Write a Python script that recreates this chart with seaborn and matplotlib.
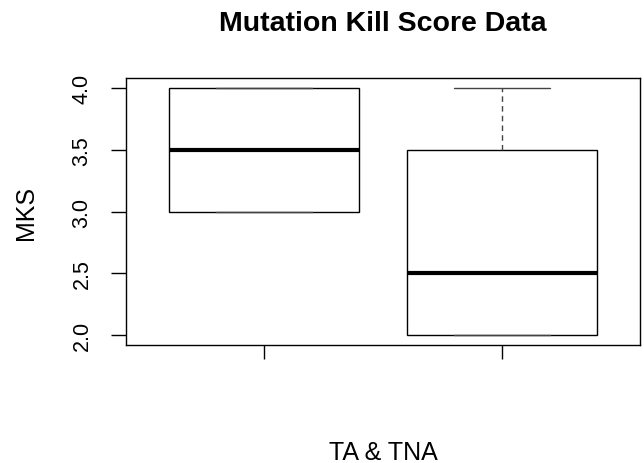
import numpy as np
import pandas as pd
import matplotlib
matplotlib.use("Agg")
import matplotlib.pyplot as plt
import seaborn as sns

# values (min, q1, median, q3, max)
groups = ["TA", "TNA"]
ta_scores = [3.0, 3.0, 3.5, 4.0, 4.0]
tna_scores = [2.0, 2.0, 2.5, 3.5, 4.0]

df = pd.DataFrame({
    "group": ["TA"] * len(ta_scores) + ["TNA"] * len(tna_scores),
    "MKS": ta_scores + tna_scores,
})

sns.set_style("white")
plt.rcParams["font.family"] = ["Liberation Sans", "DejaVu Sans"]
plt.rcParams["text.color"] = "black"
plt.rcParams["axes.labelcolor"] = "black"
plt.rcParams["ytick.color"] = "black"
plt.rcParams["xtick.color"] = "black"

fig = plt.figure(figsize=(6.44, 4.64), dpi=100)
ax = fig.add_axes([126 / 644, 1 - 346 / 464, 514 / 644, 267 / 464])

sns.boxplot(
    data=df, x="group", y="MKS", order=groups, ax=ax,
    width=0.8, color="white", linecolor="black", linewidth=1,
    whis=1.5, showfliers=False,
    medianprops={"linewidth": 3, "color": "black"},
    whiskerprops={"linestyle": (0, (4, 3)), "color": "#444444"},
    capprops={"color": "#444444"},
)

ax.set_xlim(-0.58, 1.58)
ax.set_ylim(1.919, 4.081)
ax.set_yticks([2.0, 2.5, 3.0, 3.5, 4.0])
ax.set_yticklabels(["2.0", "2.5", "3.0", "3.5", "4.0"])
ax.set_xticks([0, 1])
ax.set_xticklabels(["", ""])

for s in ax.spines.values():
    s.set_visible(True)
    s.set_color("black")
    s.set_linewidth(1)

ax.tick_params(axis="y", left=True, length=11, width=1, color="black",
               labelrotation=90, labelsize=15.5, pad=13, labelcolor="black")
ax.tick_params(axis="x", bottom=True, length=10, width=1, color="black")
for lab in ax.get_yticklabels():
    lab.set_va("center")

ax.set_ylabel("MKS", fontsize=18, color="black")
ax.yaxis.label.set_va("baseline")
ax.yaxis.set_label_coords(-0.181, 0.5)
ax.set_xlabel("TA & TNA", fontsize=18, color="black")
ax.xaxis.label.set_va("baseline")
ax.xaxis.set_label_coords(0.5, -0.427)

fig.text(383 / 644, 1 - 31 / 464, "Mutation Kill Score Data",
         ha="center", va="baseline", fontsize=20.5, fontweight="bold",
         color="black")

fig.savefig("out.png", dpi=100)
